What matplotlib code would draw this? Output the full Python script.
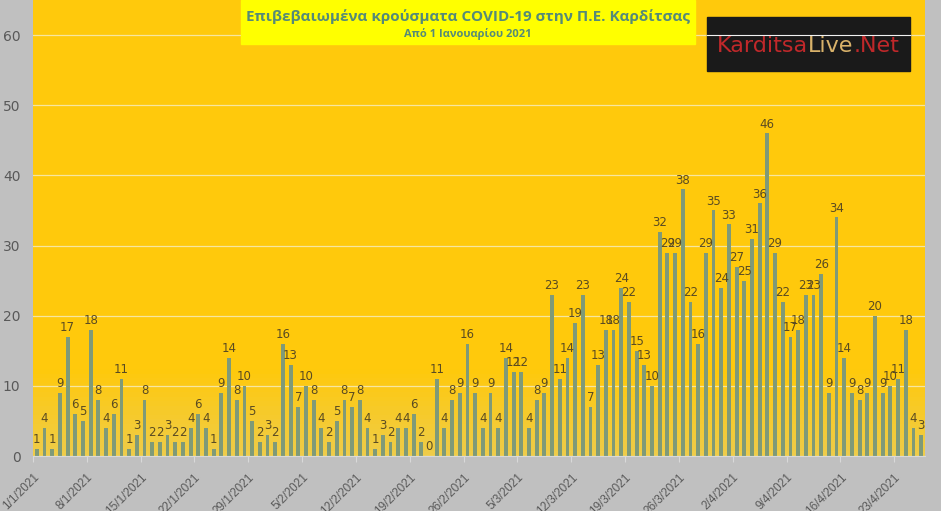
import numpy as np
import pandas as pd
import matplotlib
matplotlib.use("Agg")
import matplotlib.pyplot as plt
from matplotlib.patches import Rectangle
from matplotlib.transforms import ScaledTranslation

# daily confirmed cases, Kardítsa, from 1/1/2021
cases = [1, 4, 1, 9, 17, 6, 5, 18, 8, 4, 6, 11, 1, 3, 8, 2, 2, 3, 2, 2,
         4, 6, 4, 1, 9, 14, 8, 10, 5, 2, 3, 2, 16, 13, 7, 10, 8, 4, 2, 5,
         8, 7, 8, 4, 1, 3, 2, 4, 4, 6, 2, 0, 11, 4, 8, 9, 16, 9, 4, 9,
         4, 14, 12, 12, 4, 8, 9, 23, 11, 14, 19, 23, 7, 13, 18, 18, 24, 22, 15, 13,
         10, 32, 29, 29, 38, 22, 16, 29, 35, 24, 33, 27, 25, 31, 36, 46, 29, 22, 17, 18,
         23, 23, 26, 9, 34, 14, 9, 8, 9, 20, 9, 10, 11, 18, 4, 3]
dates = pd.date_range("2021-01-01", periods=len(cases), freq="D")
tick_idx = list(range(0, len(cases), 7))
tick_labels = [f"{d.day}/{d.month}/{d.year}" for d in dates[tick_idx]]

title = "Επιβεβαιωμένα κρούσματα COVID-19 στην Π.Ε. Καρδίτσας"
subtitle = "Από 1 Ιανουαρίου 2021"

W, H = 941, 511
YTOP = 65
fig = plt.figure(figsize=(W / 100, H / 100), dpi=100)
fig.patch.set_facecolor("#c0c0c0")
ax = fig.add_axes([33 / W, (H - 456) / H, (925 - 33) / W, 456 / H])

x = np.arange(len(cases))
ax.set_xlim(-0.5, len(cases) - 0.5)
ax.set_ylim(0, YTOP)

# gold background, a bit paler near the axis
grad = np.ones((100, 1, 3))
top = np.array(matplotlib.colors.to_rgb("#ffc90c"))
bot = np.array(matplotlib.colors.to_rgb("#efcc48"))
yy = np.linspace(0, YTOP, 100)
t = np.clip((12 - yy) / 12, 0, 1)[:, None]
grad[:, 0, :] = top * (1 - t) + bot * t
ax.imshow(grad, aspect="auto", origin="lower", extent=(-0.5, len(cases) - 0.5, 0, YTOP), zorder=0)

ax.set_yticks(range(0, 61, 10))
ax.yaxis.grid(True, color="#f7e6a0", lw=0.9, zorder=1)
ax.set_axisbelow(True)

bars = ax.bar(x, cases, width=0.5, color="#7f9a78", zorder=2)
ax.bar_label(bars, padding=2, fontsize=8.5, color="#5a4b22")

ax.set_xticks([i - 0.5 for i in tick_idx])
ax.set_xticklabels(tick_labels, rotation=45, ha="right", rotation_mode="anchor",
                   fontsize=8.5, color="#595959", family="Liberation Sans")
shift = ScaledTranslation(7 / 100, 0, fig.dpi_scale_trans)
for lab in ax.get_xticklabels():
    lab.set_transform(lab.get_transform() + shift)
ax.tick_params(axis="x", length=4, color="#d9d9d9", pad=7)
ax.tick_params(axis="y", length=0, labelsize=10, labelcolor="#595959", pad=9)
for s in ["top", "right", "left"]:
    ax.spines[s].set_visible(False)
ax.spines["bottom"].set_color("#d9d9d9")

# title box
ax_t = fig.add_axes([0, 0, 1, 1], facecolor="none")
ax_t.set_xlim(0, W)
ax_t.set_ylim(H, 0)
ax_t.axis("off")
ax_t.add_patch(Rectangle((241, 0), 454, 44, color="#ffff00", zorder=1))
ax_t.text(468, 17, title, ha="center", va="center", fontsize=11, fontweight="bold",
          color="#558a78", family="Open Sans", zorder=2)
ax_t.text(468, 34, subtitle, ha="center", va="center", fontsize=8, fontweight="bold",
          color="#558a78", family="Open Sans", zorder=2)

# logo box
ax_t.add_patch(Rectangle((707, 17), 203, 54, color="#1a1a1a", zorder=1))
ax_t.plot([707, 910], [35, 35], color="#f2f2f2", lw=0.8, zorder=3)
t1 = ax_t.text(717, 46, "Karditsa", ha="left", va="center", fontsize=16, color="#c0282a", zorder=2)
t2 = ax_t.annotate("Live", xy=(1, 0.5), xycoords=t1, va="center", ha="left",
                   fontsize=16, color="#d9b26a", zorder=2)
ax_t.annotate(".Net", xy=(1, 0.5), xycoords=t2, va="center", ha="left",
              fontsize=16, color="#c0282a", zorder=2)

fig.savefig("out.png", dpi=100, facecolor=fig.get_facecolor())
